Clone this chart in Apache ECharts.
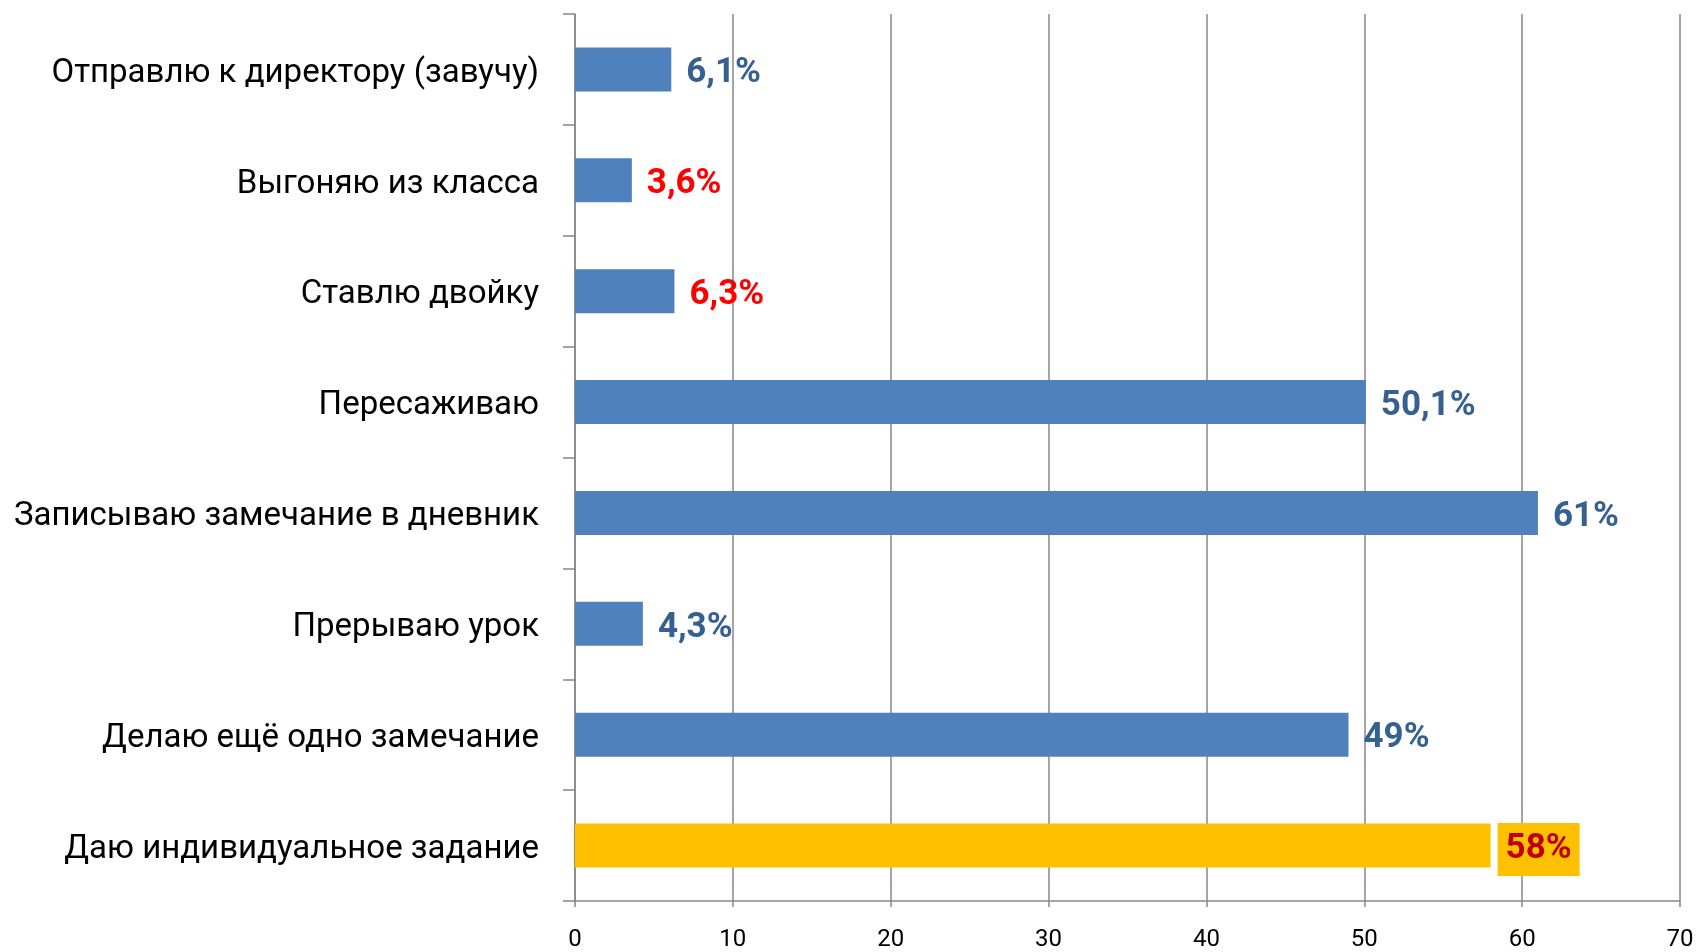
<!DOCTYPE html>
<html>
<head>
<meta charset="utf-8">
<script src="https://cdn.jsdelivr.net/npm/echarts@6/dist/echarts.min.js"></script>
<style>
  html, body { margin: 0; padding: 0; background: #fff; }
  #chart { width: 1698px; height: 952px; }
</style>
</head>
<body>
<div id="chart"></div>
<script>
// data, top to bottom as in the picture
const categories = [
  "Отправлю к директору (завучу)",
  "Выгоняю из класса",
  "Ставлю двойку",
  "Пересаживаю",
  "Записываю замечание в дневник",
  "Прерываю урок",
  "Делаю ещё одно замечание",
  "Даю индивидуальное задание",
];
const values = [6.1, 3.6, 6.3, 50.1, 61, 4.3, 49, 58];
const valueLabels = ["6,1%", "3,6%", "6,3%", "50,1%", "61%", "4,3%", "49%", "58%"];
const labelColors = ["#376092", "#ff0000", "#ff0000", "#376092", "#376092", "#376092", "#376092", "#c00000"];
const highlightIndex = 7;
const xTicks = [0, 10, 20, 30, 40, 50, 60, 70];

const barBlue = "#4f81bd";
const barYellow = "#ffc000";
const lineGray = "#878787";
const font = "Roboto, 'Noto Sans', sans-serif";

const chart = echarts.init(document.getElementById("chart"));

const seriesData = values.map((v, i) => {
  const item = {
    value: v,
    itemStyle: { color: i === highlightIndex ? barYellow : barBlue },
    label: { color: labelColors[i] },
  };
  if (i === highlightIndex) {
    item.label = {
      color: labelColors[i],
      backgroundColor: barYellow,
      padding: [10, 8, 8, 8],
      distance: 7,
    };
  }
  return item;
});

const option = {
  animation: false,
  grid: { left: 575, right: 18, top: 14, bottom: 47 },
  xAxis: {
    type: "value",
    min: xTicks[0],
    max: xTicks[xTicks.length - 1],
    interval: 10,
    axisLine: { show: true, lineStyle: { color: lineGray, width: 1.5 } },
    axisTick: { show: true, length: 6, lineStyle: { color: lineGray, width: 1.5 } },
    axisLabel: { color: "#000", fontSize: 24, fontFamily: font, margin: 27 },
    splitLine: { show: true, lineStyle: { color: lineGray, width: 1.5 } },
  },
  yAxis: {
    type: "category",
    data: categories,
    inverse: true,
    axisLine: { show: true, lineStyle: { color: lineGray, width: 1.5 } },
    axisTick: { show: true, length: 12, lineStyle: { color: lineGray, width: 1.5 } },
    axisLabel: {
      color: "#000",
      fontSize: 33,
      fontFamily: font,
      margin: 36,
      verticalAlign: "top",
      lineHeight: 8,
    },
  },
  series: [
    {
      type: "bar",
      data: seriesData,
      barWidth: 44,
      label: {
        show: true,
        position: "right",
        distance: 15,
        offset: [0, 4],
        fontSize: 35,
        fontWeight: "bold",
        fontFamily: font,
        formatter: function (p) {
          return valueLabels[p.dataIndex];
        },
      },
    },
  ],
};

chart.setOption(option);
</script>
</body>
</html>
